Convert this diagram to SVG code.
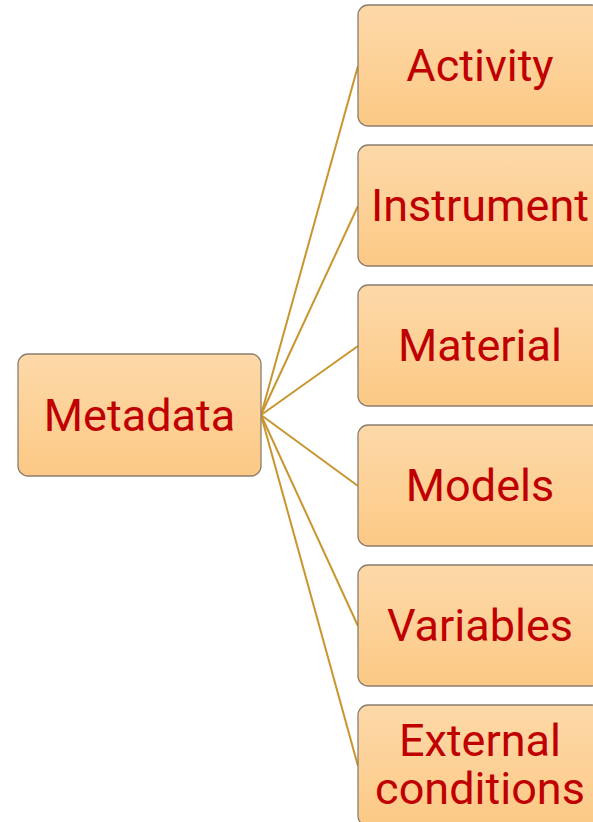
<svg xmlns="http://www.w3.org/2000/svg" width="593" height="822" viewBox="0 0 593 822">
<defs>
<linearGradient id="g" x1="0" y1="0" x2="0" y2="1">
<stop offset="0" stop-color="#fdd9a9"/>
<stop offset="1" stop-color="#fcc985"/>
</linearGradient>
<style>
.box{fill:url(#g);stroke:#8c7d6c;stroke-width:1.3}
.t{font-family:Roboto,"Liberation Sans",sans-serif;font-size:45px;fill:#c00000;text-anchor:middle}
.c{stroke:#c8952f;stroke-width:2;fill:none}
</style>
</defs>
<g id="connectors">
<line class="c" x1="261" y1="415" x2="358" y2="66"/>
<line class="c" x1="261" y1="415" x2="358" y2="206"/>
<line class="c" x1="261" y1="415" x2="358" y2="346"/>
<line class="c" x1="261" y1="415" x2="358" y2="486"/>
<line class="c" x1="261" y1="415" x2="358" y2="626"/>
<line class="c" x1="261" y1="415" x2="358" y2="766"/>
</g>
<g id="metadata"><rect class="box" x="18" y="354" width="243" height="122" rx="10"/><text class="t" x="139.5" y="431">Metadata</text></g>
<g id="activity"><rect class="box" x="358" y="5" width="244" height="121" rx="10"/><text class="t" x="480" y="81">Activity</text></g>
<g id="instrument"><rect class="box" x="358" y="145" width="244" height="121" rx="10"/><text class="t" x="480" y="221">Instrument</text></g>
<g id="material"><rect class="box" x="358" y="285" width="244" height="121" rx="10"/><text class="t" x="480" y="361">Material</text></g>
<g id="models"><rect class="box" x="358" y="425" width="244" height="121" rx="10"/><text class="t" x="480" y="501">Models</text></g>
<g id="variables"><rect class="box" x="358" y="565" width="244" height="121" rx="10"/><text class="t" x="480" y="641">Variables</text></g>
<g id="external"><rect class="box" x="358" y="705" width="244" height="121" rx="10"/><text class="t" x="480" y="756">External</text><text class="t" x="480" y="804">conditions</text></g>
</svg>
